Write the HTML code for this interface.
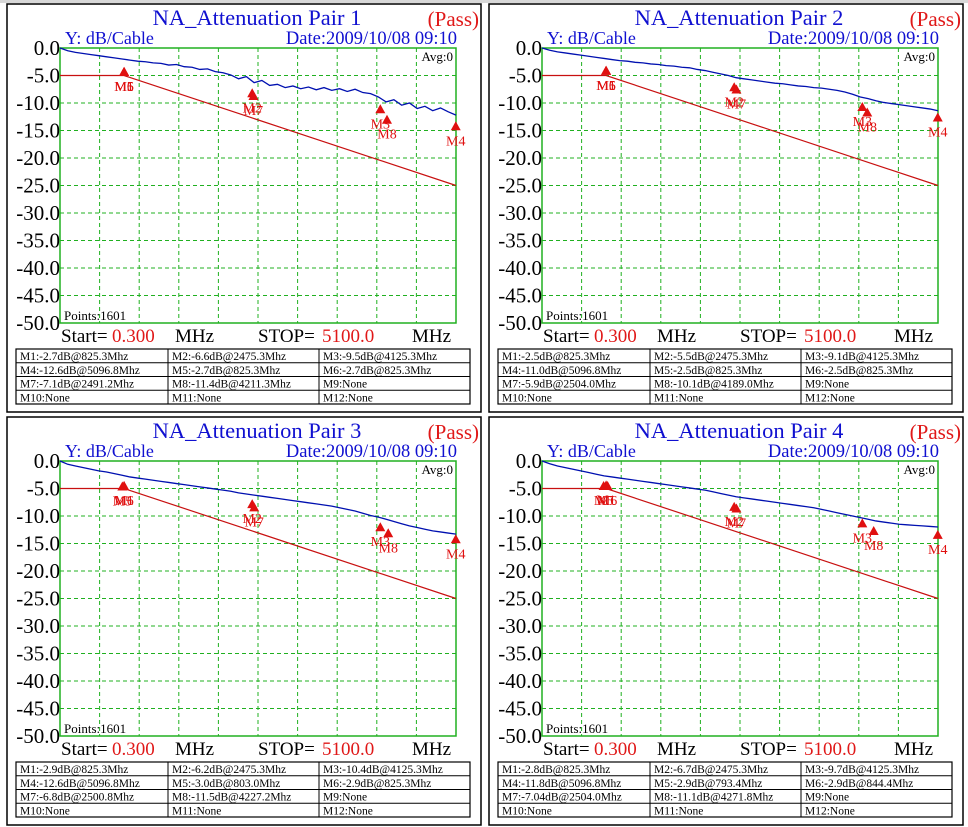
<!DOCTYPE html>
<html><head><meta charset="utf-8">
<style>
html,body{margin:0;padding:0;background:#fff;}
body{width:968px;height:827px;overflow:hidden;position:relative;}
svg{position:absolute;left:0;top:0;}
text{font-family:"Liberation Serif",serif;}
</style></head>
<body>
<svg id="chart" width="968" height="827" viewBox="0 0 968 827" xmlns="http://www.w3.org/2000/svg">
<rect x="0" y="0" width="968" height="3" fill="#d8d8d8"/>
</svg>
<script>
// ---- data ----
const titles = ["NA_Attenuation Pair 1","NA_Attenuation Pair 2","NA_Attenuation Pair 3","NA_Attenuation Pair 4"];
const yTicks = [0,-5,-10,-15,-20,-25,-30,-35,-40,-45,-50];
const yTickLabels = ["0.0","-5.0","-10.0","-15.0","-20.0","-25.0","-30.0","-35.0","-40.0","-45.0","-50.0"];
const freqStep = 100; // MHz between trace samples
const trace1 = [0,-0.5,-0.8,-1.0,-1.2,-1.4,-1.6,-1.8,-2.0,-2.2,-2.4,-2.5,-2.7,-2.8,-3.1,-3.0,-3.4,-3.5,-3.9,-3.8,-4.3,-4.5,-4.9,-5.6,-5.2,-6.3,-5.9,-6.8,-6.6,-7.2,-6.9,-7.4,-7.1,-7.6,-7.2,-7.7,-7.4,-7.9,-7.5,-8.1,-8.3,-8.9,-9.8,-9.4,-10.4,-10.0,-11.0,-10.6,-11.4,-10.9,-11.6,-12.2];
const trace2 = [0,-0.4,-0.7,-0.9,-1.1,-1.3,-1.5,-1.7,-1.9,-2.1,-2.3,-2.4,-2.6,-2.7,-2.9,-3.0,-3.2,-3.3,-3.5,-3.6,-3.9,-4.1,-4.4,-4.7,-5.0,-5.4,-5.6,-5.8,-6.0,-6.2,-6.4,-6.5,-6.7,-6.9,-7.0,-7.2,-7.3,-7.5,-7.7,-8.0,-8.4,-8.9,-9.2,-9.6,-9.9,-10.1,-10.3,-10.5,-10.7,-10.9,-11.1,-11.4];
const trace3 = [0,-0.6,-0.9,-1.2,-1.5,-1.8,-2.0,-2.3,-2.6,-2.9,-3.1,-3.3,-3.5,-3.7,-3.9,-4.1,-4.3,-4.5,-4.7,-4.9,-5.1,-5.3,-5.5,-5.8,-6.0,-6.2,-6.4,-6.6,-6.8,-7.0,-7.2,-7.4,-7.6,-7.8,-8.0,-8.2,-8.5,-8.8,-9.1,-9.5,-9.9,-10.2,-10.6,-11.0,-11.4,-11.8,-12.1,-12.4,-12.7,-12.9,-13.1,-13.3];
const trace4 = [0,-0.5,-0.9,-1.2,-1.5,-1.8,-2.1,-2.4,-2.7,-2.9,-3.1,-3.3,-3.5,-3.7,-3.9,-4.1,-4.3,-4.5,-4.7,-4.9,-5.1,-5.3,-5.6,-5.9,-6.2,-6.5,-6.7,-6.9,-7.1,-7.3,-7.5,-7.7,-7.9,-8.1,-8.3,-8.5,-8.8,-9.1,-9.4,-9.7,-10.0,-10.3,-10.6,-10.9,-11.1,-11.3,-11.5,-11.6,-11.7,-11.8,-11.9,-12.0];
const traces = [trace1,trace2,trace3,trace4];
const limitFreqs = [0,825,5100];
const limitVals = [-5,-5,-25];
const markerNames = ["M1","M2","M3","M4","M5","M6","M7","M8"];
const mkVals1 = [-2.7,-6.6,-9.5,-12.6,-2.7,-2.7,-7.1,-11.4];
const mkFreqs1 = [825.3,2475.3,4125.3,5096.8,825.3,825.3,2491.2,4211.3];
const mkVals2 = [-2.5,-5.5,-9.1,-11.0,-2.5,-2.5,-5.9,-10.1];
const mkFreqs2 = [825.3,2475.3,4125.3,5096.8,825.3,825.3,2504.0,4189.0];
const mkVals3 = [-2.9,-6.2,-10.4,-12.6,-3.0,-2.9,-6.8,-11.5];
const mkFreqs3 = [825.3,2475.3,4125.3,5096.8,803.0,825.3,2500.8,4227.2];
const mkVals4 = [-2.8,-6.7,-9.7,-11.8,-2.9,-2.9,-7.0,-11.1];
const mkFreqs4 = [825.3,2475.3,4125.3,5096.8,793.4,844.4,2504.0,4271.8];
const mkVals = [mkVals1,mkVals2,mkVals3,mkVals4];
const mkFreqs = [mkFreqs1,mkFreqs2,mkFreqs3,mkFreqs4];
const valFmt = [["-2.7","-6.6","-9.5","-12.6","-2.7","-2.7","-7.1","-11.4"],
                ["-2.5","-5.5","-9.1","-11.0","-2.5","-2.5","-5.9","-10.1"],
                ["-2.9","-6.2","-10.4","-12.6","-3.0","-2.9","-6.8","-11.5"],
                ["-2.8","-6.7","-9.7","-11.8","-2.9","-2.9","-7.04","-11.1"]];
const origins = [[7,4],[489,4],[7,417],[489,417]];
const fStart = 0, fStop = 5100;

const NS = "http://www.w3.org/2000/svg";
const svg = document.getElementById('chart');
function mk(tag, attrs, parent, txt){
  const e = document.createElementNS(NS, tag);
  for (const k in attrs) e.setAttribute(k, attrs[k]);
  if (txt !== undefined) e.textContent = txt;
  parent.appendChild(e);
  return e;
}
const PL=53, PT=44, PW=396, PH=275;

for (let p=0;p<4;p++){
  const [ox,oy] = origins[p];
  const g = mk('g',{transform:`translate(${ox},${oy})`},svg);
  
  
  const xs = f => PL + (f-fStart)/(fStop-fStart)*PW;
  const ys = v => PT + (0 - v)/50*PH;
  const frame = mk('rect',{x:0,y:0,width:474,height:408,fill:'#fff',stroke:'#000','stroke-width':1.5},g);
  
  
  let t = mk('text',{x:250,y:21,'text-anchor':'middle','font-size':22.5,fill:'#1010d0'},g,titles[p]);
   
  t = mk('text',{x:472,y:22,'text-anchor':'end','font-size':21,fill:'#e01818'},g,'(Pass)');
   
  t = mk('text',{x:58,y:40,'font-size':18,fill:'#1010d0'},g,'Y: dB/Cable');
   
  t = mk('text',{x:450,y:40,'text-anchor':'end','font-size':18.5,fill:'#1010d0'},g,'Date:2009/10/08 09:10');
   
  // grid
  const grid = mk('g',{stroke:'#20b020','stroke-width':1,'stroke-dasharray':'4,3'},g);
   
  for (let i=1;i<10;i++){
    const x = PL+PW*i/10;
    mk('line',{x1:x,y1:PT,x2:x,y2:PT+PH},grid);
  }
  yTicks.forEach((v,i)=>{
    if (i>0 && i<yTicks.length-1) mk('line',{x1:PL,y1:ys(v),x2:PL+PW,y2:ys(v)},grid);
    const l = mk('text',{x:PL,y:ys(v)+7,'text-anchor':'end','font-size':21,fill:'#000'},g,yTickLabels[i]);
     
  });
  const box = mk('rect',{x:PL,y:PT,width:PW,height:PH,fill:'none',stroke:'#20b020','stroke-width':1.5},g);
   
  t = mk('text',{x:446,y:57,'text-anchor':'end','font-size':13,fill:'#000'},g,'Avg:0');
   
  t = mk('text',{x:57,y:316,'font-size':13,fill:'#000'},g,'Points:1601');
   
  // limit line
  const lim = mk('polyline',{points:limitFreqs.map((f,i)=>xs(f)+','+ys(limitVals[i])).join(' '),fill:'none',stroke:'#c81010','stroke-width':1.2},g);
   
  // trace
  const tr = traces[p];
  const pts = tr.map((v,i)=>xs(Math.min(fStop,i*freqStep))+','+ys(v)).join(' ');
  const tl = mk('polyline',{points:pts,fill:'none',stroke:'#0010b0','stroke-width':1.3},g);
   
  // markers
  markerNames.forEach((n,i)=>{
    const x = xs(mkFreqs[p][i]), y = ys(mkVals[p][i])+4;
    const m = mk('polygon',{points:`${x},${y} ${x-5},${y+9} ${x+5},${y+9}`,fill:'#e01010'},g);
     
    const ml = mk('text',{x:x,y:y+24,'text-anchor':'middle','font-size':14,fill:'#e01010'},g,n);
     
  });
  // start/stop
  const ss = [[54,'Start=','#000'],[105,'0.300','#e01818'],[168,'MHz','#000'],[251,'STOP=','#000'],[315,'5100.0','#e01818'],[405,'MHz','#000']];
  ss.forEach(s=>{
    const e = mk('text',{x:s[0],y:338,'font-size':19,fill:s[2]},g,s[1]);
     
  });
  // marker table
  const tb = mk('g',{},g);
   
  const TX=9, TY=345, TW=454, TH=55, cw=[0,152,303,454];
  mk('rect',{x:TX,y:TY,width:TW,height:TH,fill:'none',stroke:'#000','stroke-width':1.2},tb);
  for (let r=1;r<4;r++) mk('line',{x1:TX,y1:TY+TH*r/4,x2:TX+TW,y2:TY+TH*r/4,stroke:'#000','stroke-width':1},tb);
  for (let c=1;c<3;c++) mk('line',{x1:TX+cw[c],y1:TY,x2:TX+cw[c],y2:TY+TH,stroke:'#000','stroke-width':1},tb);
  for (let k=0;k<12;k++){
    const r = Math.floor(k/3), c = k%3;
    const txt = k<8 ? `M${k+1}:${valFmt[p][k]}dB@${mkFreqs[p][k].toFixed(1)}Mhz` : `M${k+1}:None`;
    const e = mk('text',{x:TX+cw[c]+4,y:TY+TH*r/4+11,'font-size':11.5,fill:'#000'},tb,txt);
     
  }
}
</script>
</body></html>
